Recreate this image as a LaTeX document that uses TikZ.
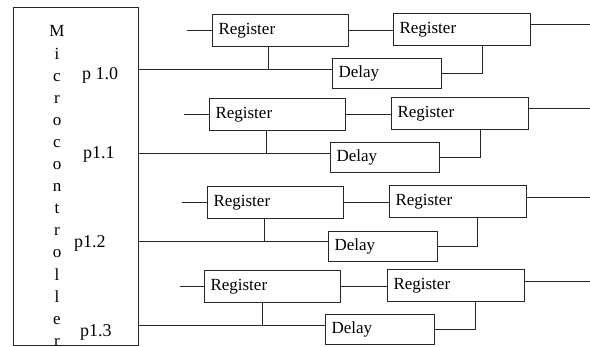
\documentclass[tikz,border=0pt]{standalone}
\usepackage{fontspec}
\setmainfont{Liberation Serif}
\begin{document}
\begin{tikzpicture}[x=1pt,y=-1pt,
  wire/.style={draw=black!85, line width=1pt},
  txt/.style={inner sep=0pt, font=\fontsize{17}{20}\selectfont},
  blk/.style={draw=black!85, line width=1pt, rectangle, anchor=north west,
    inner xsep=6pt, inner ysep=0pt, align=left, font=\fontsize{17}{20}\selectfont},
  rega/.style={blk, text width=124pt, minimum height=32pt},
  regb/.style={blk, text width=125pt, minimum height=32pt},
  dly/.style={blk, text width=97pt, minimum height=30pt},
  port/.style={txt, font=\fontsize{18}{20}\selectfont, anchor=base west}]
\useasboundingbox (0,0) rectangle (590,347);

% controller block
\node[draw=black!85, line width=1.1pt, rectangle, anchor=north west, inner sep=0pt,
  minimum width=125pt, minimum height=338pt] (mc) at (13,7) {};
\foreach \ch [count=\k] in {M,i,c,r,o,c,o,n,t,r,o,l,l,e,r}
  \node[txt, anchor=base] (mcl\k) at (57,{37+(\k-1)*22.1}) {\ch};

% port labels
\node[port] (p0) at (82,80) {p 1.0};
\node[port] (p1) at (83,159) {p1.1};
\node[port] (p2) at (74,248) {p1.2};
\node[port] (p3) at (80,337) {p1.3};

% one register / delay chain per port
\foreach \i/\ax/\ay/\bx/\by/\dx/\dy/\ly/\tx/\sx/\jx/\oy in {
  1/212/14/393/13/332/58/70/268/187/482/25,
  2/209/98/391/97/330/142/154/266/184/480/109,
  3/207/186/389/185/328/231/242/264/182/477/198,
  4/204/270/387/269/325/314/326/262/180/475/282}
{
  \node[rega] (ra\i) at (\ax,\ay) {Register};
  \node[regb] (rb\i) at (\bx,\by) {Register};
  \node[dly]  (dl\i) at (\dx,\dy) {Delay};
  \coordinate (in\i)  at (\sx,\ay+16);
  \coordinate (tap\i) at (\tx,\ly);
  \coordinate (jn\i)  at (\jx,\ly);
  \coordinate (out\i) at (590,\oy);
  \draw[wire] (ra\i.west -| in\i) -- (ra\i.west);
  \draw[wire] (ra\i.east) -- (ra\i.east -| rb\i.west);
  \draw[wire] (rb\i.east |- out\i) -- (out\i);
  \draw[wire] (mc.east |- tap\i) -- (tap\i -| dl\i.west);
  \draw[wire] (ra\i.south -| tap\i) -- (tap\i);
  \draw[wire] (dl\i.east) -| (jn\i |- rb\i.south);
}
\end{tikzpicture}
\end{document}
